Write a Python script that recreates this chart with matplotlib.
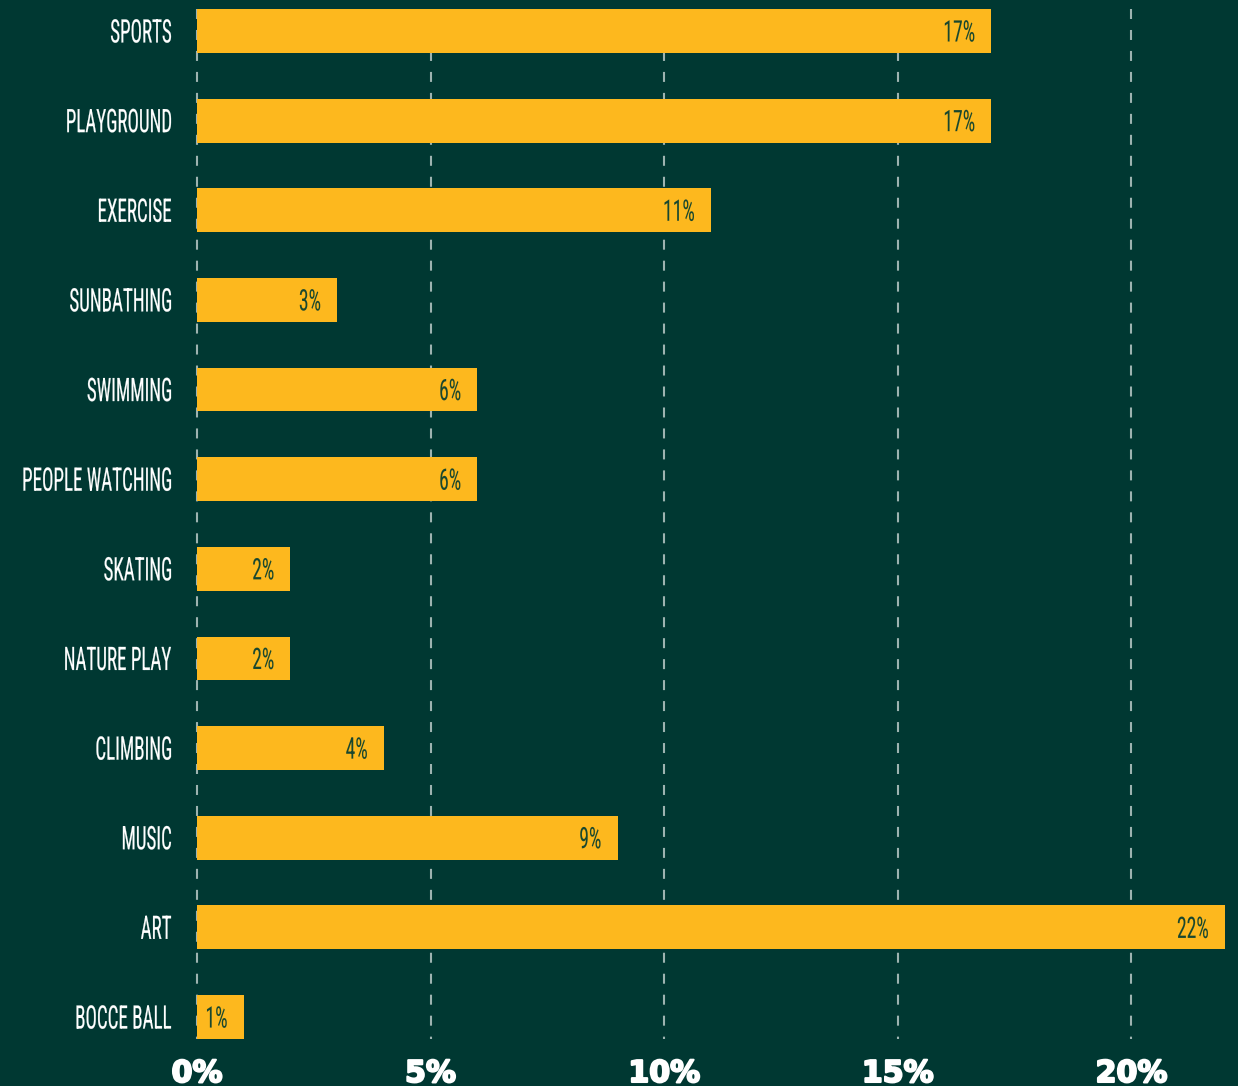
import matplotlib

matplotlib.use("Agg")
import matplotlib.patheffects as pe
import matplotlib.pyplot as plt
from matplotlib import font_manager
from matplotlib.patches import PathPatch
from matplotlib.textpath import TextPath
from matplotlib.transforms import Affine2D, IdentityTransform, blended_transform_factory


activities = [
    "SPORTS", "PLAYGROUND", "EXERCISE", "SUNBATHING", "SWIMMING", "PEOPLE WATCHING",
    "SKATING", "NATURE PLAY", "CLIMBING", "MUSIC", "ART", "BOCCE BALL",
]
shares = [17, 17, 11, 3, 6, 6, 2, 2, 4, 9, 22, 1]
ticks = [0, 5, 10, 15, 20]

BG = "#003832"
BAR = "#fdb81e"
INK = "#18472f"
GRID = "#9db3b0"
W, H, DPI = 1238, 1086, 100

plt.rcParams["lines.scale_dashes"] = False


def pick_font(names):
    for name in names:
        try:
            path = font_manager.findfont(font_manager.FontProperties(family=name),
                                         fallback_to_default=False)
            return font_manager.FontProperties(fname=path)
        except ValueError:
            continue
    return font_manager.FontProperties(family="DejaVu Sans")


def squeeze_for(prop, sample, cap, width):
    cap_ref = TextPath((0, 0), "H", size=1, prop=prop).get_extents().height
    w = TextPath((0, 0), sample, size=1, prop=prop).get_extents().width
    return width / (w * cap / cap_ref)


def narrow_text(fig, s, x, y, prop, cap, squeeze, color, lw):
    # right edge at x, caps centred on y (display pixels)
    cap_ref = TextPath((0, 0), "H", size=1, prop=prop).get_extents().height
    path = TextPath((0, 0), s, size=1, prop=prop)
    k = cap / cap_ref
    x1 = path.get_extents().x1
    tr = Affine2D().scale(k * squeeze, k).translate(x - x1 * k * squeeze, y - cap / 2)
    fig.add_artist(PathPatch(path, transform=tr, fc=color, ec=color, lw=lw))


narrow = pick_font(["Roboto Condensed", "Liberation Sans Narrow", "DejaVu Sans"])
label_sq = squeeze_for(narrow, "SPORTS", 23, 60)
value_sq = squeeze_for(narrow, "6%", 21, 20)

fig = plt.figure(figsize=(W / DPI, H / DPI), dpi=DPI, facecolor=BG)
ax = fig.add_axes([197 / W, 47 / H, 1041 / W, 1030 / H])
ax.axis("off")

n = len(activities)
ax.set_xlim(0, 22.28)
ax.set_ylim(n - 1 + 0.245, -0.245)

ax.vlines(ticks, -0.245, n - 1 + 0.245, colors=GRID, linewidth=1.5,
          linestyles=[(0, (7.2, 7.9))], zorder=1, clip_on=False)
ax.barh(range(n), shares, height=0.49, color=BAR, zorder=2)

for i, (name, v) in enumerate(zip(activities, shares)):
    x_end, y_mid = ax.transData.transform((v, i))
    narrow_text(fig, name, 171, y_mid, narrow, 23, label_sq, "white", 0.15)
    narrow_text(fig, f"{v}%", x_end - 17, y_mid, narrow, 21, value_sq, INK, 0.05)

tick_tr = blended_transform_factory(ax.transData, IdentityTransform())
for t in ticks:
    ax.text(t, 4, f"{t}%", transform=tick_tr, ha="center", va="baseline",
            fontsize=21.6, fontweight="bold", color="white", family="DejaVu Sans",
            path_effects=[pe.withStroke(linewidth=1.5, foreground="white")])

fig.savefig("out.png", dpi=DPI, facecolor=BG)
